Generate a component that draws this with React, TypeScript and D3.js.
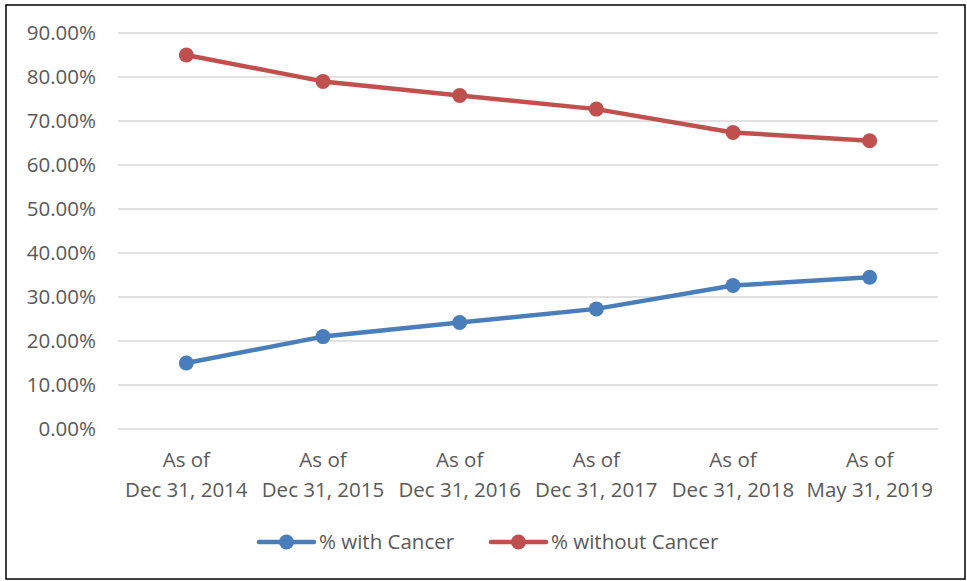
import React from "react";
import * as d3 from "d3";

const categories = [
  ["As of", "Dec 31, 2014"],
  ["As of", "Dec 31, 2015"],
  ["As of", "Dec 31, 2016"],
  ["As of", "Dec 31, 2017"],
  ["As of", "Dec 31, 2018"],
  ["As of", "May 31, 2019"],
];
const withCancer = [0.15, 0.21, 0.242, 0.273, 0.326, 0.345];
const withoutCancer = [0.85, 0.79, 0.758, 0.727, 0.674, 0.655];
const yTicks = [0, 0.1, 0.2, 0.3, 0.4, 0.5, 0.6, 0.7, 0.8, 0.9];

const series = [
  { name: "% with Cancer", values: withCancer, color: "#4A7EBB" },
  { name: "% without Cancer", values: withoutCancer, color: "#C0504D" },
];

const W = 967;
const H = 581;
const FONT = "'Open Sans', 'Liberation Sans', sans-serif";
const TEXT = "#595959";
const FS = 20.5;

export default function App() {
  const margin = { left: 118, right: 29, top: 33, bottom: 152 };
  const x = d3
    .scaleBand<number>()
    .domain(d3.range(categories.length))
    .range([margin.left, W - margin.right]);
  const y = d3
    .scaleLinear()
    .domain([0, 0.9])
    .range([H - margin.bottom, margin.top]);
  const cx = (i: number) => (x(i) as number) + x.bandwidth() / 2;
  const line = d3
    .line<number>()
    .x((_, i) => cx(i))
    .y((d) => y(d));
  const fmt = (v: number) => (v * 100).toFixed(2) + "%";

  const legendX = [259, 491];

  return (
    <div style={{ position: "fixed", left: 0, top: 0 }}>
      <svg width={W} height={H} style={{ display: "block" }} fontFamily={FONT}>
        <rect x={0} y={0} width={W} height={H} fill="#fff" />
        <rect x={6} y={5} width={959} height={574} fill="none" stroke="#000" strokeWidth={1.5} />

        {/* gridlines + y labels */}
        {yTicks.map((t) => (
          <g key={t}>
            <line
              x1={margin.left}
              x2={W - margin.right}
              y1={y(t)}
              y2={y(t)}
              stroke="#D9D9D9"
              strokeWidth={1.5}
            />
            <text
              x={96}
              y={y(t)}
              dy="0.35em"
              textAnchor="end"
              fontSize={FS}
              fill={TEXT}
            >
              {fmt(t)}
            </text>
          </g>
        ))}

        {/* x labels */}
        {categories.map((c, i) => (
          <text key={i} textAnchor="middle" fontSize={FS} fill={TEXT}>
            <tspan x={cx(i)} y={467}>
              {c[0]}
            </tspan>
            <tspan x={cx(i)} y={497}>
              {c[1]}
            </tspan>
          </text>
        ))}

        {/* series */}
        {series.map((s) => (
          <g key={s.name}>
            <path
              d={line(s.values) || ""}
              fill="none"
              stroke={s.color}
              strokeWidth={4.5}
              strokeLinejoin="round"
              strokeLinecap="round"
            />
            {s.values.map((v, i) => (
              <circle key={i} cx={cx(i)} cy={y(v)} r={7.5} fill={s.color} />
            ))}
          </g>
        ))}

        {/* legend */}
        {series.map((s, k) => (
          <g key={s.name} transform={`translate(${legendX[k]},542)`}>
            <line x1={0} x2={55} y1={0} y2={0} stroke={s.color} strokeWidth={4.5} strokeLinecap="round" />
            <circle cx={27.5} cy={0} r={7.5} fill={s.color} />
            <text x={60} y={0} dy="0.35em" fontSize={FS} fill={TEXT}>
              {s.name}
            </text>
          </g>
        ))}
      </svg>
    </div>
  );
}
